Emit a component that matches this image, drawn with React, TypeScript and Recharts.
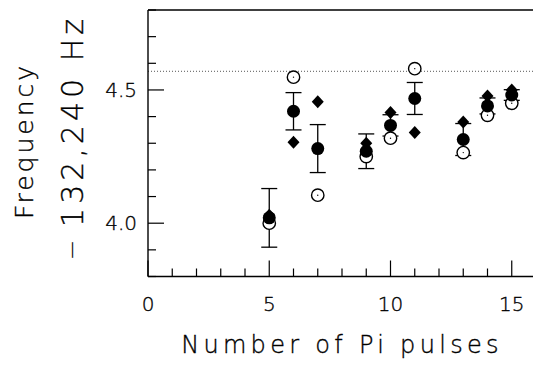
import React from "react"
import { ScatterChart, Scatter, XAxis, YAxis, ErrorBar, ReferenceLine } from "recharts"

// number of pi pulses per run
const pulses = [5, 6, 7, 9, 10, 11, 13, 14, 15]
// averaged frequency (filled circles) and its error
const meanFreq = [4.02, 4.42, 4.28, 4.27, 4.367, 4.468, 4.314, 4.44, 4.481]
const meanErr = [0.11, 0.07, 0.09, 0.065, 0.04, 0.06, 0.06, 0.03, 0.02]
// individual determinations
const openFreq = [4.0, 4.548, 4.105, 4.25, 4.319, 4.58, 4.265, 4.405, 4.45]
const diamondFreq = [4.03, 4.304, 4.456, 4.3, 4.415, 4.34, 4.38, 4.477, 4.5]
const referenceFreq = 4.57

const xTicks = Array.from({ length: 17 }, (_, i) => i)
const yTicks = [3.8, 3.9, 4.0, 4.1, 4.2, 4.3, 4.4, 4.5, 4.6, 4.7, 4.8]
const xLabels = [0, 5, 10, 15]
const yLabels = [4.0, 4.5]

const FONT = "'DejaVu Sans', sans-serif"
// thin font, a hairline stroke keeps it black
const textStyle = { fontFamily: FONT, fontWeight: 200, fill: "#000", stroke: "#000", strokeWidth: 0.35 }

const meanData = pulses.map((x, i) => ({ x, y: meanFreq[i], err: meanErr[i] }))
const openData = pulses.map((x, i) => ({ x, y: openFreq[i] }))
const diamondData = pulses.map((x, i) => ({ x, y: diamondFreq[i] }))

const isMajorX = (v: number) => xLabels.includes(v)
const isMajorY = (v: number) => yLabels.some((l) => Math.abs(l - v) < 1e-6)

const BottomTick = ({ x, y, payload }: any) => {
  const major = isMajorX(payload.value)
  return (
    <g>
      <line x1={x} x2={x} y1={y} y2={y - (major ? 16 : 8)} stroke="#000" strokeWidth={1.2} />
      {major && (
        <text x={x} y={y + 34} textAnchor="middle" fontSize={20} {...textStyle}>
          {payload.value}
        </text>
      )}
    </g>
  )
}

const TopTick = ({ x, y, payload }: any) => (
  <line x1={x} x2={x} y1={y} y2={y + (isMajorX(payload.value) ? 16 : 8)} stroke="#000" strokeWidth={1.2} />
)

const LeftTick = ({ x, y, payload }: any) => {
  const major = isMajorY(payload.value)
  return (
    <g>
      <line x1={x} x2={x + (major ? 16 : 8)} y1={y} y2={y} stroke="#000" strokeWidth={1.2} />
      {major && (
        <text x={x - 11} y={y + 7} textAnchor="end" fontSize={20} {...textStyle}>
          {payload.value.toFixed(1)}
        </text>
      )}
    </g>
  )
}

const RightTick = ({ x, y, payload }: any) => (
  <line x1={x} x2={x - (isMajorY(payload.value) ? 16 : 8)} y1={y} y2={y} stroke="#000" strokeWidth={1.2} />
)

const OpenDot = ({ cx, cy }: any) => (
  <g>
    <circle cx={cx} cy={cy} r={6.2} fill="#fff" stroke="#000" strokeWidth={1.4} />
    <circle cx={cx} cy={cy} r={0.7} fill="#000" />
  </g>
)

const FilledDot = ({ cx, cy }: any) => <circle cx={cx} cy={cy} r={6.5} fill="#000" />

const Diamond = ({ cx, cy }: any) => (
  <polygon points={`${cx},${cy - 6.5} ${cx + 6},${cy} ${cx},${cy + 6.5} ${cx - 6},${cy}`} fill="#000" />
)

const YTitle = () => (
  <g {...textStyle}>
    <text x={33} y={141} transform="rotate(-90 33 141)" textAnchor="middle" fontSize={25} letterSpacing={3}>
      Frequency
    </text>
    <text x={83} y={121} transform="rotate(-90 83 121)" textAnchor="middle" fontSize={30} letterSpacing={4}>
      132,240 Hz
    </text>
    <text x={77} y={250} transform="rotate(-90 77 250)" textAnchor="middle" fontSize={17}>
      —
    </text>
  </g>
)

const XTitle = () => (
  <text x={342} y={353} textAnchor="middle" fontSize={24} letterSpacing={4.3} {...textStyle}>
    Number of Pi pulses
  </text>
)

export default function App() {
  return (
    <div style={{ position: "fixed", left: 0, top: 0, width: 533, height: 367, overflow: "hidden", background: "#fff" }}>
      <ScatterChart width={560} height={367} margin={{ top: 0, right: 0, bottom: 0, left: 0 }}>
        <XAxis
          xAxisId={0}
          type="number"
          dataKey="x"
          domain={[0, 16]}
          ticks={xTicks}
          orientation="bottom"
          height={90.5}
          tickSize={0}
          tickMargin={0}
          tick={<BottomTick />}
          axisLine={{ stroke: "#000", strokeWidth: 1.4 }}
          tickLine={false}
          interval={0}
          label={<XTitle />}
        />
        <XAxis
          xAxisId="top"
          type="number"
          dataKey="x"
          domain={[0, 16]}
          ticks={xTicks}
          orientation="top"
          height={10}
          tickSize={0}
          tickMargin={0}
          tick={<TopTick />}
          axisLine={{ stroke: "#000", strokeWidth: 1.4 }}
          tickLine={false}
          interval={0}
        />
        <YAxis
          yAxisId={0}
          type="number"
          dataKey="y"
          domain={[3.8, 4.8]}
          ticks={yTicks}
          width={148}
          tickSize={0}
          tickMargin={0}
          tick={<LeftTick />}
          axisLine={{ stroke: "#000", strokeWidth: 1.4 }}
          tickLine={false}
          interval={0}
          label={<YTitle />}
        />
        <YAxis
          yAxisId="right"
          orientation="right"
          type="number"
          dataKey="y"
          domain={[3.8, 4.8]}
          ticks={yTicks}
          width={24}
          tickSize={0}
          tickMargin={0}
          tick={<RightTick />}
          axisLine={{ stroke: "#000", strokeWidth: 1.4 }}
          tickLine={false}
          interval={0}
        />
        <ReferenceLine y={referenceFreq} stroke="#555" strokeWidth={1} strokeDasharray="1 2" />
        <Scatter data={openData} shape={<OpenDot />} isAnimationActive={false} />
        <Scatter data={diamondData} shape={<Diamond />} isAnimationActive={false} />
        <Scatter data={meanData} shape={<FilledDot />} isAnimationActive={false}>
          <ErrorBar dataKey="err" direction="y" width={8} stroke="#000" strokeWidth={1.3} />
        </Scatter>
      </ScatterChart>
    </div>
  )
}
